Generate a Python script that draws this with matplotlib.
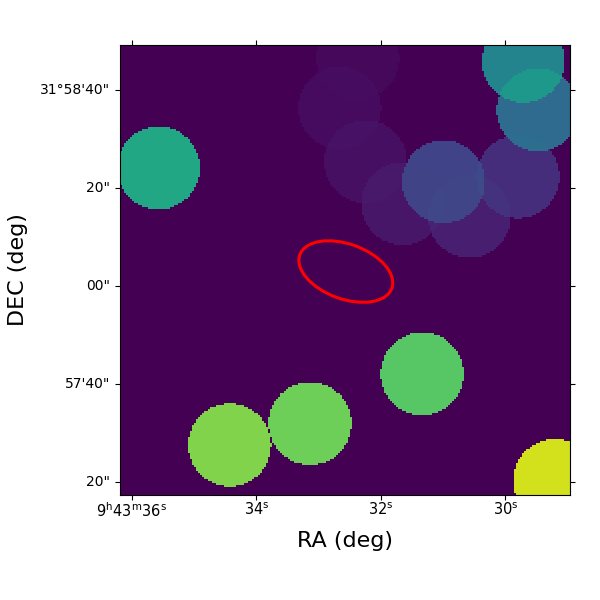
import matplotlib

matplotlib.use("Agg")
import matplotlib.pyplot as plt
from matplotlib.colors import PowerNorm
from matplotlib.patches import Ellipse
from matplotlib.transforms import ScaledTranslation
import numpy as np

# source positions, arcsec offset from 9h43m32s +31d58m00s
src_x = [45.6, -29.3, -32.3, 4.7, 8.4, 3.1, -4.5, -12.9, -28.2, -18.2, -8.5, 14.5, 31.0, -35.7]
src_y = [24.2, 46.1, 36.1, 46.7, 36.5, 25.5, 16.9, 21.4, 22.4, 14.3, -18.0, -28.2, -32.6, -39.9]
# colour fraction of each source on its own (before the power stretch)
src_level = [0.60, 0.45, 0.35, 0.02, 0.03, 0.04, 0.06, 0.20, 0.13, 0.085, 0.74, 0.78, 0.81, 0.93]
src_radius = 8.5

x_ticks = [50.88, 25.44, 0.0, -25.44]
x_labels = [r"9$^{\mathrm{h}}$43$^{\mathrm{m}}$36$^{\mathrm{s}}$", r"34$^{\mathrm{s}}$", r"32$^{\mathrm{s}}$", r"30$^{\mathrm{s}}$"]
y_ticks = [40, 20, 0, -20, -40]
y_labels = ["31°58'40\"", '20"', '00"', "57'40\"", '20"']

x_range = (53.3, -38.65)
y_range = (-42.65, 49.2)
n_pix = 225
gamma = 0.4

xs = np.linspace(x_range[0], x_range[1], n_pix)
ys = np.linspace(y_range[0], y_range[1], n_pix)
xx, yy = np.meshgrid(xs, ys)
image = np.zeros_like(xx)
for x0, y0, level in zip(src_x, src_y, src_level):
    mask = (xx - x0) ** 2 + (yy - y0) ** 2 <= src_radius ** 2
    image[mask] += level ** (1 / gamma)

fig = plt.figure(figsize=(6, 6), dpi=100)
ax = fig.add_axes([0.2, 0.175, 0.75, 0.75])
ax.imshow(
    image,
    origin="lower",
    cmap="viridis",
    norm=PowerNorm(gamma=gamma, vmin=0, vmax=1),
    extent=(x_range[0], x_range[1], y_range[0], y_range[1]),
    interpolation="nearest",
    aspect="auto",
)

# region ellipse
ax.add_patch(Ellipse((7.16, 2.96), 20.0, 11.2, angle=20, fill=False, edgecolor="red", linewidth=2.2))

ax.set_xticks(x_ticks)
ax.set_xticklabels(x_labels, fontsize=10.5)
ax.set_yticks(y_ticks)
ax.set_yticklabels(y_labels, fontsize=10)
ax.tick_params(direction="out", length=3.5, top=True, right=True)
ax.tick_params(axis="x", pad=1)
for label in ax.get_yticklabels():
    label.set_transform(label.get_transform() + ScaledTranslation(0, 2 / 100, fig.dpi_scale_trans))
ax.set_xlabel("RA (deg)", fontsize=16, labelpad=8)
ax.set_ylabel("DEC (deg)", fontsize=16, labelpad=9)

fig.savefig("out.png", dpi=100)
plt.close(fig)
